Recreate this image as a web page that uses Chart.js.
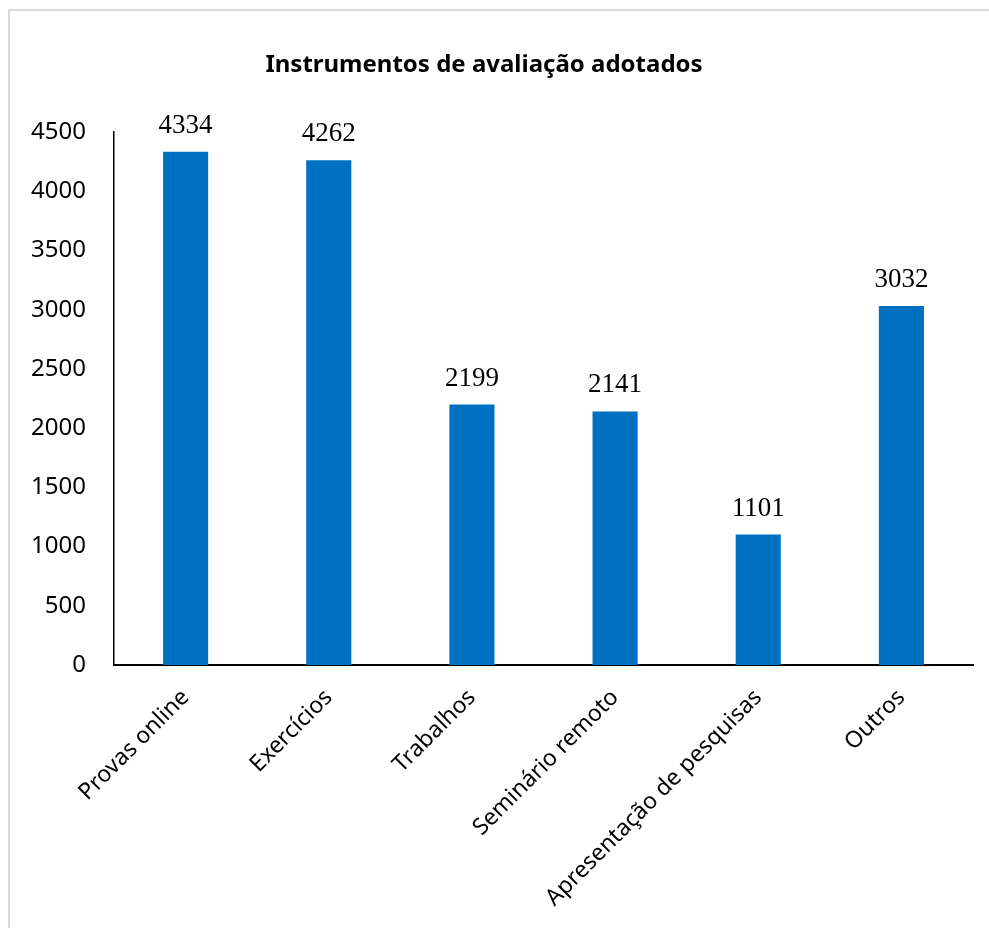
<!DOCTYPE html>
<html>
<head>
<meta charset="utf-8">
<script src="https://cdn.jsdelivr.net/npm/chart.js@4/dist/chart.umd.min.js"></script>
<style>
    html, body { margin: 0; padding: 0; background: #fff; }
    #wrap { position: relative; width: 989px; height: 928px; overflow: hidden; }
    #frame { position: absolute; left: 8px; top: 9px; width: 990px; height: 930px; border: 2px solid #d9d9d9; box-sizing: border-box; }
    #chart { position: absolute; left: 0; top: 0; }
</style>
</head>
<body>
<div id="wrap">
    <div id="frame"></div>
    <canvas id="chart" width="989" height="928"></canvas>
</div>
<script>
// ---------- dados ----------
const categorias = ['Provas online', 'Exercícios', 'Trabalhos', 'Seminário remoto', 'Apresentação de pesquisas', 'Outros'];
const valores = [4334, 4262, 2199, 2141, 1101, 3032];
const tituloTexto = 'Instrumentos de avaliação adotados';

// titulo desenhado a mao (centro um pouco a esquerda do canvas)
const tituloPlugin = {
    id: 'tituloPlugin',
    afterDraw(chart) {
        const ctx = chart.ctx;
        ctx.save();
        ctx.font = 'bold 24px "Noto Sans"';
        ctx.fillStyle = '#000';
        ctx.textAlign = 'center';
        ctx.textBaseline = 'alphabetic';
        ctx.fillText(tituloTexto, 484, 72);
        ctx.restore();
    }
};

// rotulos de valor acima das barras
const rotulosPlugin = {
    id: 'rotulosPlugin',
    afterDatasetsDraw(chart) {
        const ctx = chart.ctx;
        const meta = chart.getDatasetMeta(0);
        ctx.save();
        ctx.font = '27px "Liberation Serif"';
        ctx.fillStyle = '#000';
        ctx.textAlign = 'center';
        ctx.textBaseline = 'alphabetic';
        meta.data.forEach((bar, i) => {
            ctx.fillText(String(valores[i]), bar.x, bar.y - 19);
        });
        ctx.restore();
    }
};

const ctx = document.getElementById('chart').getContext('2d');
const grafico = new Chart(ctx, {
    type: 'bar',
    data: {
        labels: categorias,
        datasets: [{
            data: valores,
            backgroundColor: '#0070C0',
            borderWidth: 0,
            categoryPercentage: 1,
            barPercentage: 0.315
        }]
    },
    options: {
        responsive: false,
        animation: false,
        devicePixelRatio: 1,
        layout: { padding: { top: 132, right: 16, left: 0, bottom: 0 } },
        plugins: {
            legend: { display: false },
            title: { display: false },
            tooltip: { enabled: false }
        },
        scales: {
            x: {
                grid: { display: false, drawTicks: false },
                border: { display: true, color: '#000', width: 2 },
                ticks: {
                    color: '#000',
                    font: { family: '"Noto Sans"', size: 23 },
                    minRotation: 45,
                    maxRotation: 45,
                    padding: 19,
                    autoSkip: false
                },
                afterFit(scale) { scale.height = 263; }
            },
            y: {
                min: 0,
                max: 4500,
                grid: { display: false, drawTicks: false },
                border: { display: true, color: '#000', width: 1.5 },
                ticks: {
                    stepSize: 500,
                    color: '#000',
                    font: { family: '"Noto Sans"', size: 24 },
                    padding: 28,
                    callback: (v) => String(v)
                },
                afterFit(scale) { scale.width = 114; }
            }
        }
    },
    plugins: [tituloPlugin, rotulosPlugin]
});
</script>
</body>
</html>
